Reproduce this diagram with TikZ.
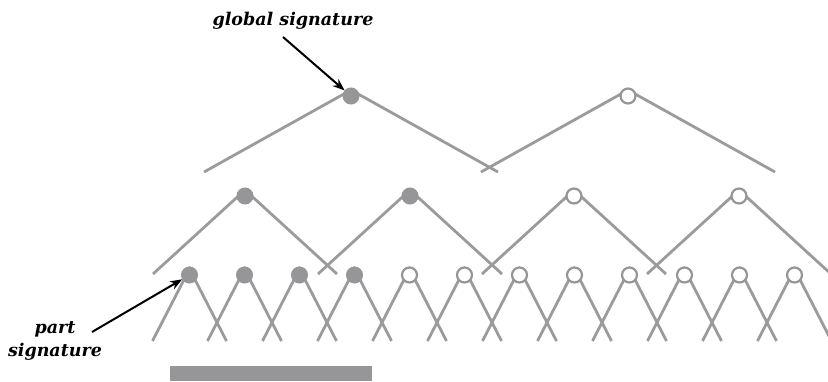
\documentclass[tikz,border=0pt]{standalone}
\usepackage{fontspec}
\setmainfont{DejaVu Serif}
\usetikzlibrary{arrows.meta}
\definecolor{nodegray}{RGB}{150,150,153}
\definecolor{linegray}{RGB}{155,155,158}
\begin{document}
\begin{tikzpicture}[x=1pt,y=-1pt,
  full/.style={circle,fill=nodegray,draw=nodegray,line width=1pt,minimum size=16pt,inner sep=0pt},
  hollow/.style={circle,fill=white,draw=nodegray,line width=2.2pt,minimum size=15pt,inner sep=0pt},
  edge/.style={draw=linegray,line width=2.8pt},
  pointer/.style={draw=black,line width=2pt,-{Stealth[length=12pt,width=9pt]}},
  label/.style={font=\fontsize{17.5}{20}\selectfont\bfseries\itshape,align=center,inner sep=0pt}]
\useasboundingbox (0,0) rectangle (828,381);
% top level
\foreach \n/\x in {t1/351,t2/628}{
  \coordinate (\n) at (\x,96);
  \coordinate (\n-l) at (\x-147,172);
  \coordinate (\n-r) at (\x+147,172);
}
% mid level
\foreach \n/\x in {m1/245,m2/410,m3/574,m4/739}{
  \coordinate (\n) at (\x,196);
  \coordinate (\n-l) at (\x-92,274);
  \coordinate (\n-r) at (\x+92,274);
}
% bottom level
\foreach \i in {1,...,12}{
  \pgfmathsetmacro\x{189.5+55*(\i-1)}
  \coordinate (b\i) at (\x,275);
  \coordinate (b\i-l) at (\x-37,341);
  \coordinate (b\i-r) at (\x+37,341);
}
% connectors
\foreach \n in {t1,t2,m1,m2,m3,m4,b1,b2,b3,b4,b5,b6,b7,b8,b9,b10,b11,b12}{
  \draw[edge] (\n-l) -- ([yshift=6pt]\n) -- (\n-r);
}
% nodes
\foreach \n in {t1,m1,m2,b1,b2,b3,b4}{ \node[full] (\n-node) at (\n) {}; }
\foreach \n in {t2,m3,m4,b5,b6,b7,b8,b9,b10,b11,b12}{ \node[hollow] (\n-node) at (\n) {}; }
% bar
\fill[nodegray] (170,366) rectangle (372,381);
% labels
\node[label] (glob) at (293,21) {global signature};
\node[label] (part) at (55,341) {part\\[3pt]signature};
\coordinate (ga) at (283,37);
\coordinate (pa) at (92,332);
\draw[pointer] (ga) -- (t1-node);
\draw[pointer] (pa) -- (b1-node);
\end{tikzpicture}
\end{document}
